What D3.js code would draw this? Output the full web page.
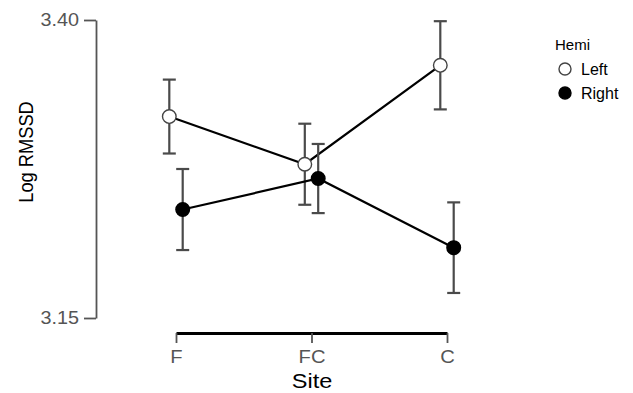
<!DOCTYPE html>
<html>
<head>
<meta charset="utf-8">
<script src="https://cdn.jsdelivr.net/npm/d3@7"></script>
<style>
  body { margin: 0; background: #fff; }
  text { font-family: "Liberation Sans", Arial, sans-serif; }
</style>
</head>
<body>
<svg id="chart" width="633" height="393"></svg>
<script>
// data
const sites = ["F", "FC", "C"];
const hemis = ["Left", "Right"];
const leftMean = [3.319, 3.279, 3.362];
const leftErr = [0.031, 0.034, 0.037];
const rightMean = [3.241, 3.267, 3.209];
const rightErr = [0.034, 0.029, 0.038];
const yTicks = [3.15, 3.40];

const svg = d3.select("#chart");

const x = d3.scalePoint().domain(sites).range([176, 447]);
const y = d3.scaleLinear().domain([3.15, 3.40]).range([318, 20]);
const dodge = d3.scalePoint().domain(hemis).range([-6.7, 6.7]);

// the source picture is a bit wider than tall, so text gets stretched
const stretch = (sel, k) => sel.each(function () {
  const w = this.getComputedTextLength();
  d3.select(this).attr("textLength", w * k).attr("lengthAdjust", "spacingAndGlyphs");
});

const series = [
  { hemi: "Left", fill: "#fff", vals: leftMean, errs: leftErr },
  { hemi: "Right", fill: "#000", vals: rightMean, errs: rightErr }
];

// y axis
const yAxis = svg.append("g")
  .attr("transform", "translate(96,0)")
  .call(d3.axisLeft(y).tickValues(yTicks).tickFormat(d3.format(".2f")).tickSize(12).tickSizeOuter(0));
yAxis.select(".domain").attr("stroke", "#555").attr("stroke-width", 1.8);
yAxis.selectAll(".tick line").attr("stroke", "#555").attr("stroke-width", 1.8);
yAxis.selectAll(".tick text")
  .attr("fill", "#555")
  .attr("x", -17)
  .style("font-size", "18px")
  .style("font-family", "Liberation Sans, Arial, sans-serif")
  .call(stretch, 1.1);

// x axis
const xAxis = svg.append("g")
  .attr("transform", "translate(0,333)")
  .call(d3.axisBottom(x).tickSize(10).tickSizeOuter(0));
xAxis.select(".domain").attr("stroke", "#000").attr("stroke-width", 2.8);
xAxis.selectAll(".tick line").attr("stroke", "#555").attr("stroke-width", 1.8);
xAxis.selectAll(".tick text")
  .attr("fill", "#555")
  .attr("y", 17)
  .style("font-size", "18px")
  .style("font-family", "Liberation Sans, Arial, sans-serif")
  .call(stretch, 1.12);

// axis titles
svg.append("text")
  .attr("transform", "translate(33,152) rotate(-90)")
  .attr("text-anchor", "middle")
  .style("font-size", "21px")
  .attr("fill", "#000")
  .text("Log RMSSD")
  .call(stretch, 0.87);

svg.append("text")
  .attr("x", 312)
  .attr("y", 388)
  .attr("text-anchor", "middle")
  .style("font-size", "21px")
  .attr("fill", "#000")
  .text("Site")
  .call(stretch, 1.12);

const line = d3.line()
  .x(d => d.px)
  .y(d => y(d.v));

series.forEach(s => {
  const pts = sites.map((site, i) => ({
    px: x(site) + dodge(s.hemi),
    v: s.vals[i],
    e: s.errs[i]
  }));

  const g = svg.append("g");

  g.append("path")
    .datum(pts)
    .attr("d", line)
    .attr("fill", "none")
    .attr("stroke", "#000")
    .attr("stroke-width", 2.2);

  const bars = g.selectAll(".err").data(pts).enter().append("g");
  bars.append("line")
    .attr("x1", d => d.px).attr("x2", d => d.px)
    .attr("y1", d => y(d.v + d.e)).attr("y2", d => y(d.v - d.e))
    .attr("stroke", "#4a4a4a").attr("stroke-width", 2.2);
  bars.append("line")
    .attr("x1", d => d.px - 6.5).attr("x2", d => d.px + 6.5)
    .attr("y1", d => y(d.v + d.e)).attr("y2", d => y(d.v + d.e))
    .attr("stroke", "#4a4a4a").attr("stroke-width", 2.2);
  bars.append("line")
    .attr("x1", d => d.px - 6.5).attr("x2", d => d.px + 6.5)
    .attr("y1", d => y(d.v - d.e)).attr("y2", d => y(d.v - d.e))
    .attr("stroke", "#4a4a4a").attr("stroke-width", 2.2);

  g.selectAll("circle").data(pts).enter().append("circle")
    .attr("cx", d => d.px)
    .attr("cy", d => y(d.v))
    .attr("r", 6.8)
    .attr("fill", s.fill)
    .attr("stroke", s.hemi === "Left" ? "#444" : "#000")
    .attr("stroke-width", 1.4);
});

// legend
const legend = svg.append("g").attr("transform", "translate(555,0)");
legend.append("text")
  .attr("x", 0).attr("y", 50)
  .style("font-size", "15px")
  .attr("fill", "#000")
  .text("Hemi");
series.forEach((s, i) => {
  const ly = 69 + i * 24;
  legend.append("circle")
    .attr("cx", 10).attr("cy", ly).attr("r", 6)
    .attr("fill", s.fill)
    .attr("stroke", s.hemi === "Left" ? "#444" : "#000")
    .attr("stroke-width", 1.4);
  legend.append("text")
    .attr("x", 26).attr("y", ly + 6)
    .style("font-size", "16px")
    .attr("fill", "#000")
    .text(s.hemi);
});
</script>
</body>
</html>
